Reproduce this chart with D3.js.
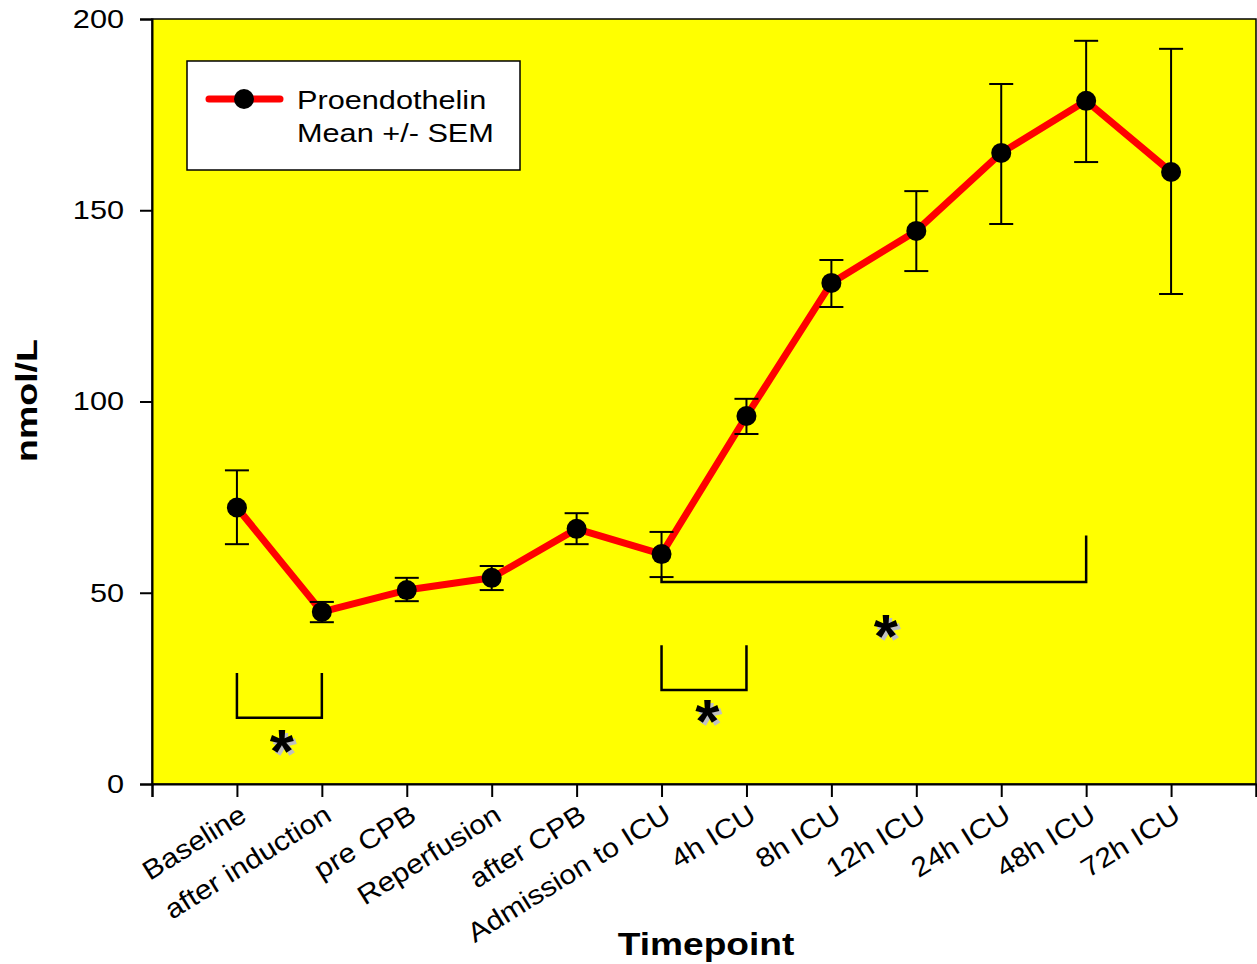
<!DOCTYPE html>
<html>
<head>
<meta charset="utf-8">
<script src="https://cdn.jsdelivr.net/npm/d3@7"></script>
<style>
  body { margin: 0; background: #fff; }
  text { font-family: Arial, "Liberation Sans", sans-serif; }
</style>
</head>
<body>
<div id="chart"></div>
<script>
var W = 1257, H = 964;

var timepoints = ["Baseline", "after induction", "pre CPB", "Reperfusion", "after CPB",
  "Admission to ICU", "4h ICU", "8h ICU", "12h ICU", "24h ICU", "48h ICU", "72h ICU"];
var means = [72.3, 45.0, 50.7, 53.9, 66.7, 60.1, 96.2, 131.0, 144.6, 165.0, 178.6, 160.0];
var lower = [62.7, 42.3, 47.8, 50.7, 62.7, 54.1, 91.5, 124.7, 134.1, 146.4, 162.6, 128.1];
var upper = [82.0, 47.6, 53.9, 57.0, 70.8, 65.9, 100.7, 137.0, 155.0, 183.0, 194.3, 192.2];
var yTicks = [0, 50, 100, 150, 200];

// significance brackets: category index from/to, heights of left/right arms, base
var brackets = [
  { from: 0, to: 1, left: 29.0, right: 29.0, base: 17.3 },
  { from: 5, to: 6, left: 36.3, right: 36.3, base: 24.6 },
  { from: 5, to: 10, left: 54.2, right: 65.0, base: 52.8 }
];
var stars = [
  { pos: 1.53, value: 11.5 },
  { pos: 6.54, value: 19.3 },
  { pos: 8.64, value: 41.6 }
];

var SX = 1.18; // horizontal stretch of the original typeface

var svg = d3.select("#chart").append("svg")
  .attr("width", W).attr("height", H);

var x = d3.scaleLinear().domain([0, 13]).range([152, 1256]);
var y = d3.scaleLinear().domain([0, 200]).range([784, 19]);
var xi = function(i) { return x(i + 1); };

// plot background
svg.append("rect")
  .attr("x", x(0)).attr("y", y(200))
  .attr("width", x(13) - x(0)).attr("height", y(0) - y(200))
  .attr("fill", "#ffff00")
  .attr("stroke", "#000").attr("stroke-width", 1.5);

// y axis
var yAxis = d3.axisLeft(y).tickValues(yTicks).tickSize(12).tickPadding(16);
var gy = svg.append("g")
  .attr("transform", "translate(" + x(0) + ",0)")
  .call(yAxis);
gy.select(".domain").attr("stroke-width", 2);
gy.selectAll(".tick line").attr("stroke-width", 2);
gy.selectAll(".tick text")
  .style("font-size", "26px").attr("fill", "#000")
  .attr("transform", function() {
    var tx = +d3.select(this).attr("x");
    return "translate(" + tx + ",0) scale(" + SX + ",1) translate(" + (-tx) + ",0)";
  });

// x axis
var xAxis = d3.axisBottom(x).tickValues(d3.range(0, 14)).tickSize(13).tickFormat("");
var gx = svg.append("g")
  .attr("transform", "translate(0," + y(0) + ")")
  .call(xAxis);
gx.select(".domain").attr("stroke-width", 2);
gx.selectAll(".tick line").attr("stroke-width", 2);

svg.append("g").selectAll("text")
  .data(timepoints)
  .enter().append("text")
  .attr("transform", function(d, i) {
    return "translate(" + (xi(i) + 1) + ",803) rotate(-32) scale(1.12,1)";
  })
  .attr("text-anchor", "end")
  .attr("dy", "0.72em")
  .style("font-size", "27px")
  .attr("fill", "#000")
  .text(function(d) { return d; });

// axis titles
svg.append("text")
  .attr("transform", "translate(" + ((x(0) + x(13)) / 2 + 2) + ",955) scale(1.16,1)")
  .attr("text-anchor", "middle")
  .style("font-size", "32px").style("font-weight", "bold")
  .text("Timepoint");

svg.append("text")
  .attr("transform", "translate(37," + (y(100) - 1) + ") rotate(-90) scale(1.25,1)")
  .attr("text-anchor", "middle")
  .style("font-size", "30px").style("font-weight", "bold")
  .text("nmol/L");

// brackets
svg.append("g").selectAll("path")
  .data(brackets)
  .enter().append("path")
  .attr("d", function(b) {
    return "M" + xi(b.from) + "," + y(b.left) +
      "V" + y(b.base) + "H" + xi(b.to) + "V" + y(b.right);
  })
  .attr("fill", "none").attr("stroke", "#000").attr("stroke-width", 2.5);

// asterisks with grey shadow
var sg = svg.append("g");
sg.selectAll("text.shadow")
  .data(stars).enter().append("text")
  .attr("class", "shadow")
  .attr("x", function(s) { return x(s.pos) + 3; })
  .attr("y", function(s) { return y(s.value) + 35; })
  .attr("text-anchor", "middle")
  .style("font-size", "62px").style("font-weight", "bold")
  .attr("fill", "#c0c0c0").text("*");
sg.selectAll("text.star")
  .data(stars).enter().append("text")
  .attr("class", "star")
  .attr("x", function(s) { return x(s.pos); })
  .attr("y", function(s) { return y(s.value) + 32; })
  .attr("text-anchor", "middle")
  .style("font-size", "62px").style("font-weight", "bold")
  .attr("fill", "#000").text("*");

// data line
var line = d3.line()
  .x(function(d, i) { return xi(i); })
  .y(function(d) { return y(d); });

svg.append("path")
  .datum(means)
  .attr("d", line)
  .attr("fill", "none").attr("stroke", "#ff0000")
  .attr("stroke-width", 7).attr("stroke-linejoin", "round");

// error bars
var eb = svg.append("g").attr("stroke", "#000").attr("stroke-width", 2);
means.forEach(function(m, i) {
  var cx = xi(i);
  eb.append("line").attr("x1", cx).attr("x2", cx)
    .attr("y1", y(lower[i])).attr("y2", y(upper[i]));
  eb.append("line").attr("x1", cx - 12).attr("x2", cx + 12)
    .attr("y1", y(lower[i])).attr("y2", y(lower[i]));
  eb.append("line").attr("x1", cx - 12).attr("x2", cx + 12)
    .attr("y1", y(upper[i])).attr("y2", y(upper[i]));
});

svg.append("g").selectAll("circle")
  .data(means).enter().append("circle")
  .attr("cx", function(d, i) { return xi(i); })
  .attr("cy", function(d) { return y(d); })
  .attr("r", 10).attr("fill", "#000");

// legend
var lg = svg.append("g");
lg.append("rect")
  .attr("x", 187).attr("y", 61).attr("width", 333).attr("height", 109)
  .attr("fill", "#fff").attr("stroke", "#000").attr("stroke-width", 1.5);
lg.append("line")
  .attr("x1", 209).attr("x2", 280).attr("y1", 99).attr("y2", 99)
  .attr("stroke", "#ff0000").attr("stroke-width", 7).attr("stroke-linecap", "round");
lg.append("circle").attr("cx", 244).attr("cy", 99).attr("r", 10).attr("fill", "#000");
lg.append("text").attr("transform", "translate(297,109) scale(" + SX + ",1)")
  .style("font-size", "26px").text("Proendothelin");
lg.append("text").attr("transform", "translate(297,142) scale(" + SX + ",1)")
  .style("font-size", "26px").text("Mean +/- SEM");
</script>
</body>
</html>
